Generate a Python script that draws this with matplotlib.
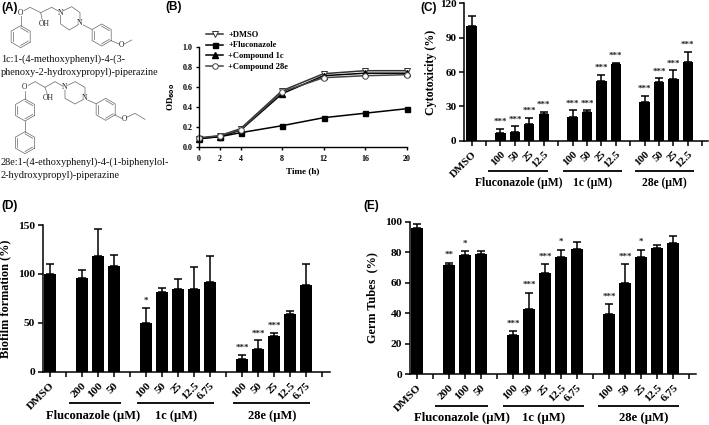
import numpy as np
import matplotlib
matplotlib.use("Agg")
import matplotlib.pyplot as plt

plt.rcParams['font.family'] = ['Liberation Serif', 'DejaVu Serif']
plt.rcParams['font.weight'] = 'bold'
plt.rcParams['axes.labelweight'] = 'bold'
plt.rcParams['mathtext.default'] = 'regular'

W, H = 709, 425

# Panel B - growth curves
times = [0, 2, 4, 8, 12, 16, 20]
od_dmso = [0.08, 0.11, 0.18, 0.56, 0.73, 0.76, 0.76]
od_fluc = [0.085, 0.10, 0.14, 0.21, 0.29, 0.335, 0.38]
od_1c = [0.08, 0.10, 0.165, 0.53, 0.71, 0.735, 0.735]
od_28e = [0.09, 0.11, 0.17, 0.55, 0.69, 0.71, 0.72]

# Panel C - cytotoxicity
c_pos = [0, 2, 3, 4, 5, 7, 8, 9, 10, 12, 13, 14, 15]
c_vals = [100, 6.5, 8, 15, 23.5, 20.5, 25.5, 52, 67, 34, 51.5, 53.5, 69]
c_errs = [8.5, 4, 4.5, 5, 2, 6, 1, 5.5, 1, 5, 3, 8, 8.5]
c_labels = ['DMSO', '100', '50', '25', '12.5', '100', '50', '25', '12.5', '100', '50', '25', '12.5']
c_stars = ['', '***', '***', '***', '***', '***', '***', '***', '***', '***', '***', '***', '***']

# Panel D - biofilm
d_pos = [0, 2, 3, 4, 6, 7, 8, 9, 10, 12, 13, 14, 15, 16]
d_vals = [100, 96, 118.5, 108.5, 50, 81, 84.5, 85, 92, 13, 23, 36, 59, 88.5]
d_errs = [10.5, 8, 27, 10.5, 15.5, 5, 10, 22, 26, 4, 9, 3.5, 3.5, 22]
d_labels = ['DMSO', '200', '100', '50', '100', '50', '25', '12.5', '6.75', '100', '50', '25', '12.5', '6.75']
d_stars = ['', '', '', '', '*', '', '', '', '', '***', '***', '***', '', '']

# Panel E - germ tubes
e_pos = d_pos
e_vals = [96, 71.5, 78, 78.5, 25.5, 43, 66, 77, 82, 39.5, 59.5, 76.5, 82.5, 86]
e_errs = [2.5, 1.5, 2.5, 2.5, 2.5, 10.5, 6, 4.5, 4.5, 6.5, 12.5, 5, 2.5, 4.5]
e_labels = d_labels
e_stars = ['', '**', '*', '', '***', '***', '***', '*', '', '***', '***', '*', '', '']

group_names = ['Fluconazole (µM)', '1c (µM)', '28e (µM)']


def px_axes(fig, left, top, right, bottom):
    return fig.add_axes([left/W, 1-bottom/H, (right-left)/W, (bottom-top)/H])


def style(ax, size, lw=1.1):
    for s in ['top', 'right']:
        ax.spines[s].set_visible(False)
    for s in ['left', 'bottom']:
        ax.spines[s].set_linewidth(lw)
    ax.tick_params(width=lw, length=3.5, labelsize=size, pad=2)
    ax.patch.set_alpha(0)


def bars(ax, pos, vals, errs, labels, stars, xlim, ylim, yticks, ylabel, size, lab_size, star_gap, lab_px):
    ax.bar(pos, vals, width=0.72, color='black')
    ax.errorbar(pos, vals, yerr=[np.zeros(len(errs)), errs], fmt='none', ecolor='black',
                elinewidth=1.1, capsize=2.6, capthick=1.1)
    for x, v, e, s in zip(pos, vals, errs, stars):
        if s:
            ax.text(x, v+e+star_gap, s, ha='center', va='center', fontsize=6.5, color='#222222')
    ax.set_xlim(*xlim)
    ax.set_ylim(*ylim)
    ax.set_yticks(yticks)
    ticks = np.arange(0, int(xlim[1])+1)
    ax.set_xticks(ticks)
    names = dict(zip(pos, labels))
    ax.set_xticklabels([names.get(t, '') for t in ticks], rotation=45, ha='right',
                       rotation_mode='anchor', fontsize=lab_size)
    style(ax, size)
    ax.tick_params(axis='x', labelsize=lab_size, pad=3)
    ax.set_ylabel(ylabel, fontsize=size+0.6)
    box = ax.get_position()
    # lab_px is the right edge of the rotated label
    ax.yaxis.set_label_coords((lab_px/W-box.x0)/box.width, 0.5)


fig = plt.figure(figsize=(W/100, H/100), dpi=100)

# overlay in pixel coordinates, for structures, group bars and panel letters
ov = fig.add_axes([0, 0, 1, 1])
ov.set_xlim(0, W)
ov.set_ylim(H, 0)
ov.axis('off')

# B
axb = px_axes(fig, 199, 46.7, 406.7, 146.7)
axb.plot(times, od_dmso, color='#333333', lw=1.1, marker='v', ms=4, mfc='white', mec='#333333', mew=0.7, label='+DMSO')
axb.plot(times, od_fluc, color='black', lw=1.1, marker='s', ms=3.6, label='+Fluconazole')
axb.plot(times, od_1c, color='black', lw=1.1, marker='^', ms=3.8, label='+Compound 1c')
axb.plot(times, od_28e, color='#444444', lw=1.1, marker='o', ms=4, mfc='white', mec='#444444', mew=0.7, label='+Compound 28e')
axb.set_xlim(0, 20)
axb.set_ylim(0, 1.0)
axb.set_xticks(times)
axb.set_yticks([0, 0.2, 0.4, 0.6, 0.8, 1.0])
axb.set_yticklabels(['0.0', '0.2', '0.4', '0.6', '0.8', '1.0'])
style(axb, 5.8, lw=1.0)
axb.tick_params(length=2.5)
axb.tick_params(axis='x', pad=3.5)
axb.set_xlabel('Time (h)', fontsize=6.6, labelpad=3)
axb.set_ylabel('OD$_{\\mathbf{600}}$', fontsize=6.5)
axb.yaxis.set_label_coords(-0.105, 0.5)
axb.legend(loc='upper left', bbox_to_anchor=(0.035, 1.16), frameon=False, fontsize=6.1,
           labelspacing=0.33, handlelength=2.0, handletextpad=0.6, borderpad=0, borderaxespad=0)
for ln in axb.lines:
    ln.set_clip_on(False)

# C
axc = px_axes(fig, 464, 3.3, 708, 140.7)
bars(axc, c_pos, c_vals, c_errs, c_labels, c_stars, (-0.53, 16.4), (0, 120), [0, 30, 60, 90, 120],
     'Cytotoxicity (%)', 8, 7.8, 6, 437)

# D
axd = px_axes(fig, 42.7, 225, 330, 371.7)
bars(axd, d_pos, d_vals, d_errs, d_labels, d_stars, (-0.44, 17.5), (0, 150), [0, 50, 100, 150],
     'Biofilm formation (%)', 8.2, 8.2, 7, 11.5)

# E
axe = px_axes(fig, 410, 221.7, 695.7, 374)
bars(axe, e_pos, e_vals, e_errs, e_labels, e_stars, (-0.42, 17.4), (0, 100), [0, 20, 40, 60, 80, 100],
     'Germ Tubes  (%)', 8.2, 8.2, 5, 378)

# group underlines and names
for y, ty, size, xs, cs in [
    (171, 182.7, 8.4, [(488, 547.7), (562.7, 621.7), (635, 694.3)], (519, 593, 664)),
    (403.3, 415.7, 9, [(69, 120.7), (136.7, 214), (232.7, 310)], (93, 175.7, 271.7)),
    (406, 418, 9.2, [(435, 487.7), (503.3, 584), (598, 679)], (461.7, 544, 644)),
]:
    for (x0, x1), cx, name in zip(xs, cs, group_names):
        ov.plot([x0, x1], [y, y], color='black', lw=1.3, solid_capstyle='butt')
        ov.text(cx, ty, name, ha='center', va='center', fontsize=size)

# panel letters
for t, x, y in [('(A)', 1, 8), ('(B)', 165, 7), ('(C)', 420, 8), ('(D)', 1, 206), ('(E)', 363, 206)]:
    ov.text(x, y, t, family='Liberation Sans', fontsize=8.5, ha='left', va='center')


# chemical structures (coords are zoom/3)
def bond(pts, col='#666666'):
    p = np.array(pts)/3.0
    ov.plot(p[:, 0], p[:, 1], color=col, lw=0.5)


def ring(cx, cy, r=33):
    ang = np.deg2rad(np.arange(30, 391, 60))
    bond(list(zip(cx+r*np.cos(ang), cy+r*np.sin(ang))))
    for a in (30, 150, 270):
        a0, a1 = np.deg2rad(a), np.deg2rad(a+60)
        q = r*0.8
        bond([(cx+q*np.cos(a0), cy+q*np.sin(a0)), (cx+q*np.cos(a1), cy+q*np.sin(a1))])


def atom(x, y, s):
    ov.text(x/3, y/3, s, ha='center', va='center', fontsize=5.5, fontweight='normal', color='#222222')


# 1c
ring(62, 110)
ring(305, 105)
bond([(62, 77), (62, 48)])
bond([(72, 32), (90, 22), (122, 38), (155, 22), (175, 33)])
bond([(122, 38), (127, 60)])
bond([(190, 32), (215, 20), (240, 38), (240, 62)])
bond([(232, 76), (208, 90), (182, 72), (182, 46)])
bond([(250, 75), (275, 88)])
bond([(333, 122), (357, 132)])
bond([(373, 132), (395, 120)])
atom(62, 38, 'O')
atom(132, 72, 'OH')
atom(182, 38, 'N')
atom(240, 70, 'N')
atom(365, 135, 'O')

# 28e
ring(75, 330)
ring(75, 428)
ring(317, 328)
bond([(75, 297), (75, 272)])
bond([(75, 363), (75, 395)])
bond([(85, 256), (105, 245), (135, 262), (165, 245), (188, 258)])
bond([(135, 262), (142, 283)])
bond([(203, 256), (225, 245), (255, 262), (255, 287)])
bond([(247, 300), (225, 312), (195, 295), (195, 270)])
bond([(263, 300), (288, 311)])
bond([(345, 345), (365, 355)])
bond([(380, 352), (405, 340), (435, 358)])
atom(75, 262, 'O')
atom(145, 295, 'OH')
atom(195, 262, 'N')
atom(255, 295, 'N')
atom(372, 358, 'O')

for t, x, y in [('1c:1-(4-methoxyphenyl)-4-(3-', 1, 59), ('phenoxy-2-hydroxypropyl)-piperazine', 1, 72.5),
                ('28e:1-(4-ethoxyphenyl)-4-(1-biphenylol-', 1, 162), ('2-hydroxypropyl)-piperazine', 1, 175)]:
    ov.text(x, y, t, fontsize=7.4, fontweight='normal', ha='left', va='center', color='#111111')

fig.savefig('out.png', dpi=100)
